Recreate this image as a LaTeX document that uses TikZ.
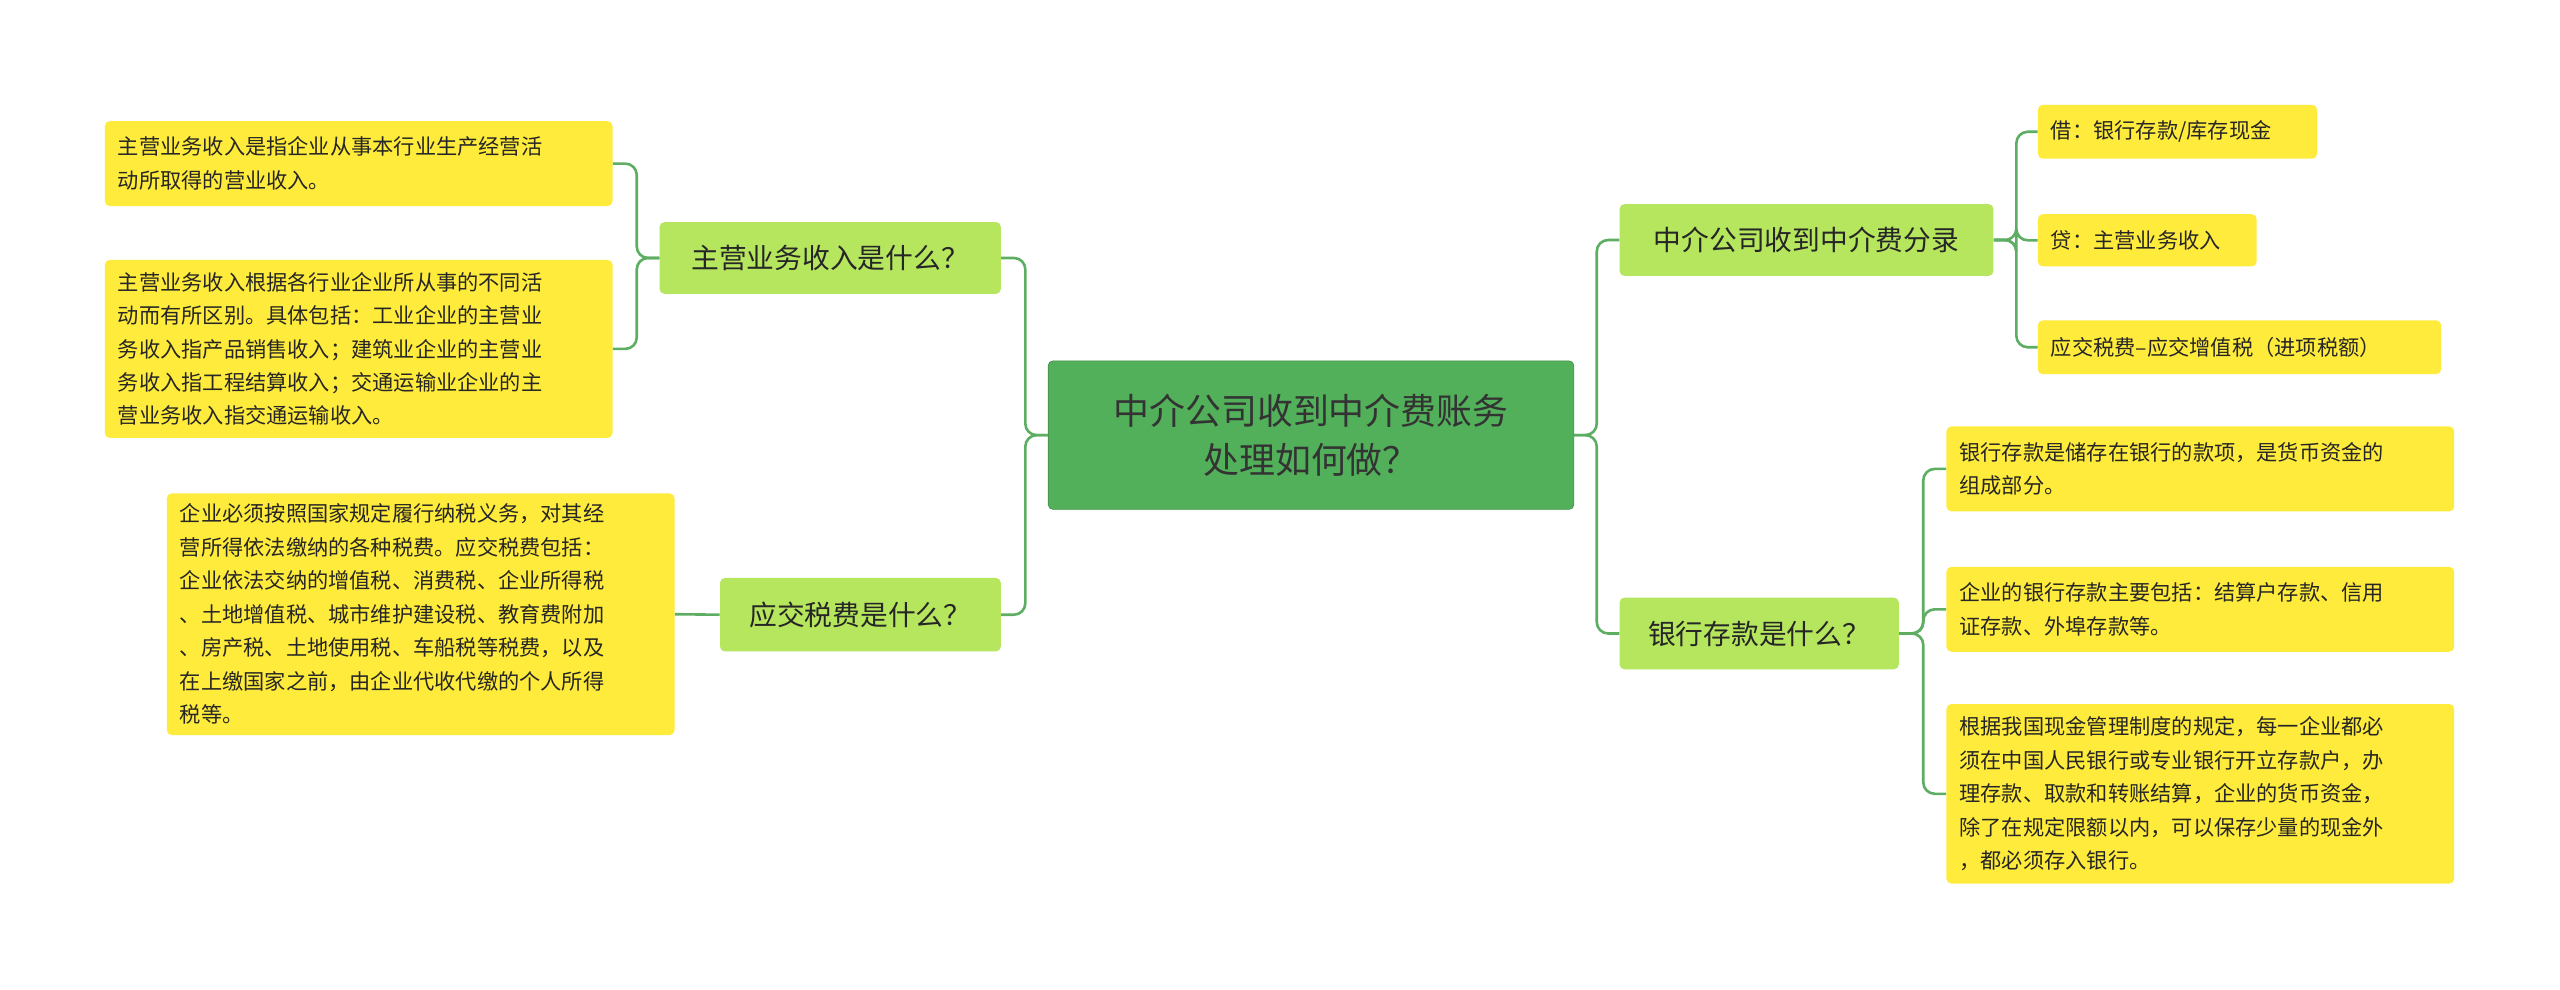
\documentclass[tikz,border=0pt]{standalone}
\usepackage{fontspec}
\setmainfont{Noto Sans CJK SC}
\begin{document}
\begin{tikzpicture}[x=1pt,y=-1pt,
 leaf/.style={fill=yellow!85!orange!60!yellow,fill=leafc,rounded corners=3pt,font=\fontsize{13}{20.5}\selectfont,align=left,anchor=north west,inner xsep=8pt,inner ysep=0pt,text=black!85},
 br/.style={fill=brc,rounded corners=3pt,font=\fontsize{17}{22}\selectfont,inner sep=0pt,text=black!85},
 ln/.style={draw=lnc,line width=1.6pt,rounded corners=7pt}]
\definecolor{leafc}{HTML}{FFEB3B}
\definecolor{brc}{HTML}{B5E65E}
\definecolor{cc}{HTML}{52B05A}
\definecolor{lnc}{HTML}{5DAE62}
\useasboundingbox (0,0) rectangle (1568,606);
\node[fill=cc,draw=cc!80!black,rounded corners=3pt,minimum width=322,minimum height=91,align=center,font=\fontsize{22}{30}\selectfont,text=black!80] (c) at (803,266.5) {中介公司收到中介费账务\\处理如何做？};
\node[br,minimum width=209,minimum height=44] (b1) at (508.5,158) {主营业务收入是什么？};
\node[br,minimum width=172,minimum height=45] (b2) at (527,376.5) {应交税费是什么？};
\node[br,minimum width=229,minimum height=44] (b3) at (1106.5,147) {中介公司收到中介费分录};
\node[br,minimum width=171,minimum height=44] (b4) at (1077.5,388) {银行存款是什么？};
% leaves
\node[leaf,minimum width=311,minimum height=52,text width=295] (l1) at (64,74) {主营业务收入是指企业从事本行业生产经营活\\动所取得的营业收入。};
\node[leaf,minimum width=311,minimum height=109,text width=295] (l2) at (64,159) {主营业务收入根据各行业企业所从事的不同活\\动而有所区别。具体包括：工业企业的主营业\\务收入指产品销售收入；建筑业企业的主营业\\务收入指工程结算收入；交通运输业企业的主\\营业务收入指交通运输收入。};
\node[leaf,minimum width=311,minimum height=148,text width=295] (l3) at (102,302) {企业必须按照国家规定履行纳税义务，对其经\\营所得依法缴纳的各种税费。应交税费包括：\\企业依法交纳的增值税、消费税、企业所得税\\、土地增值税、城市维护建设税、教育费附加\\、房产税、土地使用税、车船税等税费，以及\\在上缴国家之前，由企业代收代缴的个人所得\\税等。};
\node[leaf,minimum width=171,minimum height=33,text width=155] (r1) at (1248,64) {借：银行存款/库存现金};
\node[leaf,minimum width=134,minimum height=32,text width=118] (r2) at (1248,131) {贷：主营业务收入};
\node[leaf,minimum width=247,minimum height=33,text width=231] (r3) at (1248,196) {应交税费–应交增值税（进项税额）};
\node[leaf,minimum width=311,minimum height=52,text width=295] (r4) at (1192,261) {银行存款是储存在银行的款项，是货币资金的\\组成部分。};
\node[leaf,minimum width=311,minimum height=52,text width=295] (r5) at (1192,347) {企业的银行存款主要包括：结算户存款、信用\\证存款、外埠存款等。};
\node[leaf,minimum width=311,minimum height=110,text width=295] (r6) at (1192,431) {根据我国现金管理制度的规定，每一企业都必\\须在中国人民银行或专业银行开立存款户，办\\理存款、取款和转账结算，企业的货币资金，\\除了在规定限额以内，可以保存少量的现金外\\，都必须存入银行。};
% connectors
\draw[ln] (c.west) -- (628,266.5) |- (b1.east);
\draw[ln] (c.west) -- (628,266.5) |- (b2.east);
\draw[ln] (c.east) -- (978,266.5) |- (b3.west);
\draw[ln] (c.east) -- (978,266.5) |- (b4.west);
\draw[ln] (b1.west) -- (390,158) |- (l1.east);
\draw[ln] (b1.west) -- (390,158) |- (l2.east);
\draw[ln] (b2.west) -- (l3.east);
\draw[ln] (b3.east) -- (1235,147) |- (r1.west);
\draw[ln] (b3.east) -- (1235,147) |- (r2.west);
\draw[ln] (b3.east) -- (1235,147) |- (r3.west);
\draw[ln] (b4.east) -- (1178,388) |- (r4.west);
\draw[ln] (b4.east) -- (1178,388) |- (r5.west);
\draw[ln] (b4.east) -- (1178,388) |- (r6.west);
\end{tikzpicture}
\end{document}
